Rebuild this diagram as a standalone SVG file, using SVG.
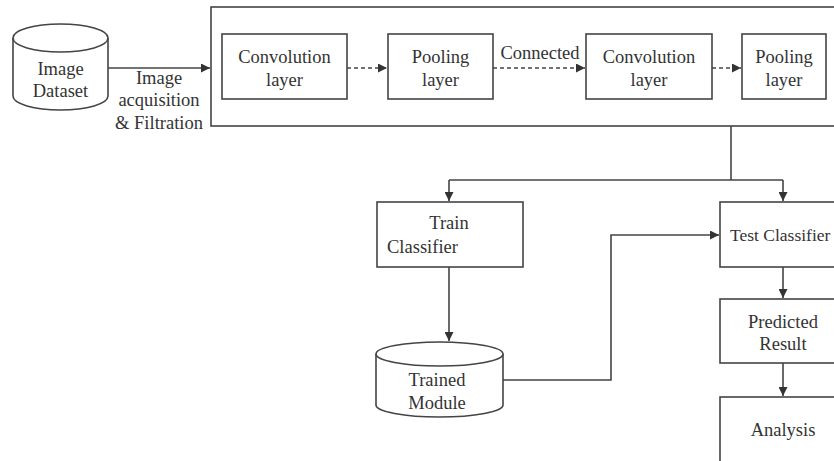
<svg xmlns="http://www.w3.org/2000/svg" width="834" height="461" viewBox="0 0 834 461" font-family="Liberation Serif" font-size="18.5" text-anchor="middle">
<defs>
<marker id="ah" viewBox="0 0 10 10" refX="10" refY="5" markerWidth="9" markerHeight="9" markerUnits="userSpaceOnUse" orient="auto">
<path d="M0,0 L10,5 L0,10 z" fill="#333"/>
</marker>
</defs>
<style>
.box{fill:#fff;stroke:#444;stroke-width:1.6}
.ln{fill:none;stroke:#444;stroke-width:1.6}
.dot{fill:none;stroke:#444;stroke-width:1.6;stroke-dasharray:4 3}
</style>
<rect width="834" height="461" fill="#fff"/>
<g id="cnn">
<rect class="box" x="211" y="7" width="640" height="119"/>
</g>
<g id="image-dataset" fill="#333">
<path class="box" d="M13,38 L13,96 A47.5,14 0 0 0 108,96 L108,38"/>
<ellipse class="box" cx="60.5" cy="38" rx="47.5" ry="14"/>
<text x="60.5" y="75">Image</text>
<text x="60.5" y="97">Dataset</text>
</g>
<g id="conv1" fill="#333">
<rect class="box" x="222" y="34" width="125" height="65"/>
<text x="284.5" y="63">Convolution</text>
<text x="284.5" y="86">layer</text>
</g>
<g id="pool1" fill="#333">
<rect class="box" x="388" y="34" width="105" height="65"/>
<text x="440.5" y="63">Pooling</text>
<text x="440.5" y="86">layer</text>
</g>
<g id="conv2" fill="#333">
<rect class="box" x="586" y="34" width="126" height="65"/>
<text x="649" y="63">Convolution</text>
<text x="649" y="86">layer</text>
</g>
<g id="pool2" fill="#333">
<rect class="box" x="742" y="34" width="84" height="65"/>
<text x="784" y="63">Pooling</text>
<text x="784" y="86">layer</text>
</g>
<g id="train" fill="#333">
<rect class="box" x="377" y="202" width="146" height="65"/>
<text x="449" y="229">Train</text>
<text x="387" y="253" text-anchor="start">Classifier</text>
</g>
<g id="trained-module" fill="#333">
<path class="box" d="M376,354 L376,405 A63.5,12 0 0 0 503,405 L503,354"/>
<ellipse class="box" cx="439.5" cy="354" rx="63.5" ry="12"/>
<text x="437" y="386">Trained</text>
<text x="437" y="409">Module</text>
</g>
<g id="test" fill="#333">
<rect class="box" x="720" y="202" width="126" height="65"/>
<text x="730" y="241" text-anchor="start" font-size="17.5">Test Classifier</text>
</g>
<g id="predicted" fill="#333">
<rect class="box" x="720" y="299" width="126" height="64"/>
<text x="783" y="328">Predicted</text>
<text x="783" y="350">Result</text>
</g>
<g id="analysis" fill="#333">
<rect class="box" x="720" y="397" width="126" height="80"/>
<text x="783" y="436">Analysis</text>
</g>
<g id="connectors" fill="#333">
<line class="ln" x1="108" y1="68" x2="210" y2="68" marker-end="url(#ah)"/>
<text x="159" y="84">Image</text>
<text x="159" y="106">acquisition</text>
<text x="159" y="129">&amp; Filtration</text>
<line class="dot" x1="347" y1="68" x2="387" y2="68" marker-end="url(#ah)"/>
<line class="dot" x1="493" y1="68" x2="585" y2="68" marker-end="url(#ah)"/>
<text x="540" y="59">Connected</text>
<line class="dot" x1="712" y1="68" x2="741" y2="68" marker-end="url(#ah)"/>
<line class="ln" x1="731" y1="126" x2="731" y2="180"/>
<path class="ln" d="M449,180 L783,180"/>
<line class="ln" x1="449" y1="180" x2="449" y2="201" marker-end="url(#ah)"/>
<line class="ln" x1="783" y1="180" x2="783" y2="201" marker-end="url(#ah)"/>
<line class="ln" x1="449" y1="267" x2="449" y2="341" marker-end="url(#ah)"/>
<path class="ln" d="M503,380 L611,380 L611,235 L719,235" marker-end="url(#ah)"/>
<line class="ln" x1="783" y1="267" x2="783" y2="298" marker-end="url(#ah)"/>
<line class="ln" x1="783" y1="363" x2="783" y2="396" marker-end="url(#ah)"/>
</g>
</svg>
